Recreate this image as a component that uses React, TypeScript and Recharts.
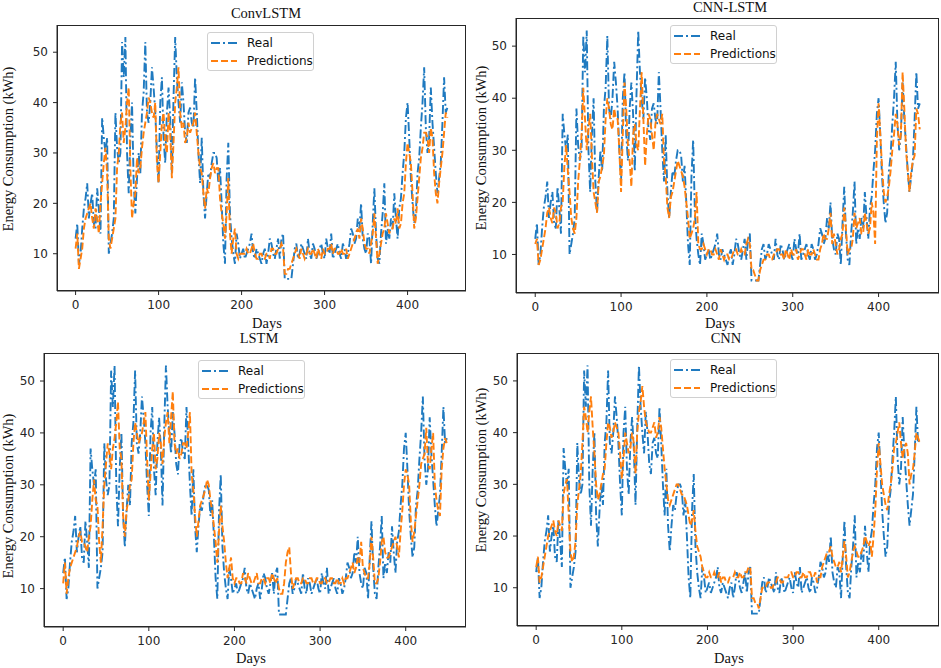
import { LineChart, Line, XAxis, YAxis, Legend } from "recharts";

// readings every 4 days (days 0, 4, ... 448) and the days in between (2, 6, ... 446)
const STEP = 4;

const REAL = [
  13, 8, 15, 21, 17, 22, 15, 19, 37, 30,
  10, 14, 38, 28, 52, 53, 22, 40, 18, 30,
  38, 52, 36, 47, 38, 24, 45, 28, 43, 26,
  53, 40, 44, 34, 38, 36, 45, 30, 33, 17,
  26, 28, 30, 24, 20, 8, 32, 13, 8, 12,
  10, 9, 11, 14, 9, 10, 8, 11, 10, 12,
  9, 13, 13, 5, 5, 5, 11, 9, 12, 10,
  13, 9, 11, 10, 12, 9, 11, 14, 10, 12,
  9, 11, 10, 15, 12, 17, 20, 11, 14, 8,
  23, 9, 14, 24, 15, 17, 22, 13, 21, 30,
  40, 25, 16, 26, 35, 47, 30, 43, 31, 22,
  28, 45, 39,
];
const REAL_MID = [
  16, 10, 19, 24, 20, 16, 23, 14, 33, 33,
  12, 17, 31, 30, 45, 30, 33, 24, 25, 26,
  42, 38, 40, 43, 30, 40, 33, 38, 37, 41,
  45, 36, 40, 32, 39, 35, 38, 24, 22, 22,
  25, 30, 29, 27, 12, 25, 18, 10, 14, 9,
  11, 10, 12, 10, 11, 9, 10, 8, 13, 10,
  11, 9, 14, 5, 5, 8, 12, 10, 11, 9,
  10, 12, 9, 11, 10, 13, 10, 9, 11, 10,
  12, 9, 12, 14, 13, 15, 13, 10, 13, 16,
  14, 8, 18, 12, 13, 15, 17, 19, 26, 37,
  33, 20, 18, 29, 40, 35, 33, 36, 26, 25,
  36, 38,
];

const PRED_CONVLSTM = [
  11, 7, 11, 17, 19, 17, 19, 14, 24, 31,
  13, 13, 17, 30, 38, 35, 43, 17, 22, 26,
  31, 36, 41, 38, 40, 24, 36, 32, 38, 25,
  40, 47, 35, 32, 36, 35, 38, 30, 26, 19,
  22, 27, 26, 27, 18, 13, 25, 10, 15, 9,
  10, 10, 10, 11, 10, 9, 10, 9, 10, 11,
  10, 11, 12, 6, 7, 8, 10, 10, 11, 9,
  11, 10, 10, 11, 9, 10, 11, 12, 11, 10,
  11, 10, 9, 11, 13, 15, 17, 12, 11, 12,
  18, 8, 12, 15, 16, 15, 17, 19, 16, 22,
  32, 28, 15, 21, 29, 34, 33, 35, 26, 20,
  27, 34, 37,
];
const PRED_CONVLSTM_MID = [
  14, 9, 15, 18, 20, 15, 17, 20, 28, 26,
  11, 15, 27, 36, 32, 40, 27, 20, 29, 27,
  34, 38, 40, 37, 28, 30, 38, 30, 34, 32,
  43, 38, 36, 33, 34, 36, 34, 27, 22, 23,
  25, 28, 27, 21, 16, 18, 14, 13, 10, 10,
  10, 11, 10, 12, 9, 10, 9, 10, 9, 11,
  10, 11, 11, 6, 7, 9, 11, 9, 10, 10,
  10, 11, 9, 10, 11, 10, 11, 10, 11, 10,
  10, 11, 10, 12, 14, 13, 15, 11, 10, 14,
  13, 10, 14, 18, 14, 15, 16, 15, 20, 28,
  30, 22, 17, 25, 31, 34, 30, 33, 22, 24,
  30, 38,
];

const PRED_CNN_LSTM = [
  12, 8, 11, 15, 19, 16, 18, 16, 20, 31,
  22, 15, 17, 28, 42, 30, 37, 22, 18, 25,
  29, 40, 35, 38, 36, 22, 43, 31, 23, 35,
  30, 45, 27, 37, 33, 35, 36, 37, 25, 17,
  22, 26, 27, 25, 20, 13, 15, 22, 11, 12,
  10, 11, 10, 10, 11, 9, 10, 9, 11, 10,
  11, 10, 13, 7, 6, 5, 8, 9, 10, 9,
  10, 11, 10, 11, 9, 10, 11, 10, 11, 9,
  10, 11, 9, 11, 14, 13, 18, 14, 10, 13,
  19, 10, 11, 18, 16, 14, 18, 14, 20, 12,
  39, 27, 20, 23, 30, 37, 31, 45, 30, 22,
  28, 38, 34,
];
const PRED_CNN_LSTM_MID = [
  13, 9, 13, 18, 17, 19, 15, 19, 27, 26,
  17, 14, 24, 33, 36, 34, 29, 20, 24, 27,
  36, 38, 34, 36, 30, 33, 38, 28, 33, 31,
  38, 36, 33, 36, 30, 37, 35, 28, 19, 21,
  24, 28, 26, 23, 17, 14, 17, 12, 11, 11,
  11, 10, 11, 9, 10, 10, 9, 10, 11, 10,
  10, 12, 12, 7, 5, 7, 9, 10, 9, 10,
  11, 10, 9, 10, 11, 10, 9, 11, 10, 11,
  10, 10, 9, 12, 13, 15, 12, 12, 11, 14,
  15, 11, 13, 15, 17, 14, 16, 15, 18, 32,
  33, 22, 21, 26, 33, 35, 33, 38, 26, 26,
  29, 37,
];

const PRED_LSTM = [
  11, 9, 14, 16, 18, 21, 19, 17, 22, 31,
  26, 15, 30, 38, 33, 39, 46, 35, 20, 27,
  31, 42, 38, 40, 44, 27, 37, 33, 40, 34,
  42, 38, 48, 36, 35, 38, 37, 44, 29, 20,
  26, 28, 31, 27, 22, 15, 26, 19, 12, 16,
  11, 12, 11, 12, 13, 11, 12, 11, 12, 11,
  12, 13, 11, 10, 9, 15, 18, 10, 12, 11,
  12, 11, 12, 11, 12, 11, 12, 11, 12, 11,
  12, 11, 11, 12, 14, 13, 16, 19, 13, 12,
  20, 11, 12, 19, 17, 16, 18, 20, 16, 25,
  33, 30, 19, 24, 30, 35, 41, 33, 40, 27,
  24, 37, 38,
];
const PRED_LSTM_MID = [
  15, 12, 15, 17, 20, 19, 18, 20, 27, 27,
  19, 22, 34, 36, 37, 42, 37, 24, 25, 30,
  38, 40, 39, 42, 35, 32, 40, 35, 38, 39,
  44, 43, 38, 37, 36, 38, 40, 32, 24, 23,
  27, 29, 30, 25, 19, 21, 22, 15, 14, 12,
  12, 11, 13, 11, 12, 11, 13, 11, 12, 12,
  11, 12, 12, 9, 11, 17, 13, 11, 12, 11,
  12, 11, 12, 11, 12, 11, 12, 11, 12, 11,
  11, 12, 12, 13, 15, 14, 15, 14, 12, 15,
  16, 11, 15, 20, 16, 17, 19, 18, 21, 30,
  32, 23, 21, 27, 34, 36, 34, 37, 30, 25,
  33, 39,
];

const PRED_CNN = [
  14, 11, 14, 18, 21, 23, 20, 22, 28, 31,
  17, 16, 26, 32, 45, 40, 47, 36, 27, 30,
  33, 42, 39, 42, 40, 31, 40, 36, 40, 32,
  44, 49, 42, 40, 41, 39, 43, 37, 30, 26,
  28, 30, 29, 28, 26, 22, 25, 18, 16, 13,
  12, 12, 13, 12, 11, 12, 11, 12, 13, 12,
  12, 13, 14, 8, 7, 6, 10, 10, 11, 10,
  11, 12, 11, 12, 13, 12, 13, 12, 13, 12,
  13, 12, 11, 12, 15, 17, 18, 15, 14, 13,
  19, 12, 15, 18, 16, 17, 20, 18, 16, 25,
  38, 30, 26, 28, 33, 38, 42, 35, 38, 30,
  33, 40, 38,
];
const PRED_CNN_MID = [
  16, 12, 16, 20, 22, 21, 23, 21, 30, 24,
  15, 19, 29, 38, 43, 44, 41, 30, 28, 32,
  38, 41, 40, 41, 36, 35, 38, 37, 38, 40,
  46, 45, 41, 40, 42, 40, 41, 33, 27, 27,
  29, 30, 28, 27, 24, 23, 21, 17, 14, 12,
  13, 12, 12, 13, 12, 11, 12, 12, 12, 13,
  12, 13, 14, 8, 7, 8, 10, 11, 10, 11,
  12, 11, 12, 12, 13, 12, 13, 12, 12, 13,
  12, 13, 12, 14, 16, 17, 16, 14, 15, 16,
  16, 13, 17, 17, 16, 18, 19, 19, 20, 33,
  34, 28, 25, 30, 37, 40, 38, 37, 36, 32,
  36, 39,
];

const X_TICKS = [0, 100, 200, 300, 400];
const Y_TICKS = [10, 20, 30, 40, 50];

const BLUE = "#1f7ac0";
const ORANGE = "#ff7f0e";
const AXIS = "#262626";
const SERIF = "'Liberation Serif', 'Times New Roman', serif";
const SANS = "'DejaVu Sans', sans-serif";

const YW = 50;
const XH = 30;

// plot box (x0,x1,y0,y1) plus label anchors, in page pixels
const PANELS = [
  { title: "ConvLSTM", pred: PRED_CONVLSTM, predMid: PRED_CONVLSTM_MID, box: [57, 466, 25, 291], titleAt: [266, 13], ylabAt: [8, 149], daysAt: [267, 323], legendAt: [207, 32] },
  { title: "CNN-LSTM", pred: PRED_CNN_LSTM, predMid: PRED_CNN_LSTM_MID, box: [516, 939, 18, 293], titleAt: [730, 7], ylabAt: [481, 148], daysAt: [720, 323], legendAt: [670, 25] },
  { title: "LSTM", pred: PRED_LSTM, predMid: PRED_LSTM_MID, box: [44, 466, 353, 627], titleAt: [259, 338], ylabAt: [8, 496], daysAt: [251, 658], legendAt: [198, 360] },
  { title: "CNN", pred: PRED_CNN, predMid: PRED_CNN_MID, box: [517, 939, 353, 626], titleAt: [726, 338], ylabAt: [481, 470], daysAt: [729, 658], legendAt: [670, 359] },
];

const tickStyle = { fontFamily: SANS, fontSize: 12, fill: AXIS };

function buildRows(pred: number[], predMid: number[]) {
  const rows: { day: number; real: number; pred: number }[] = [];
  REAL.forEach((r, i) => {
    rows.push({ day: i * STEP, real: r, pred: pred[i] });
    if (i < REAL_MID.length) rows.push({ day: i * STEP + STEP / 2, real: REAL_MID[i], pred: predMid[i] });
  });
  return rows;
}

function LegendBox() {
  const rows = [
    { name: "Real", color: BLUE, dash: "9 3 2 3" },
    { name: "Predictions", color: ORANGE, dash: "7 3" },
  ];
  return (
    <div
      style={{
        width: 107,
        height: 39,
        boxSizing: "border-box",
        border: "1px solid #d0d0d0",
        borderRadius: 3,
        background: "rgba(255,255,255,0.85)",
        padding: "1px 0 0 3px",
        fontFamily: SANS,
        fontSize: 12,
        color: "#111",
      }}
    >
      {rows.map((r) => (
        <div key={r.name} style={{ display: "flex", alignItems: "center", height: 18 }}>
          <svg width={26} height={10} style={{ marginRight: 10 }}>
            <line x1={0} y1={5} x2={26} y2={5} stroke={r.color} strokeWidth={2} strokeDasharray={r.dash} />
          </svg>
          <span>{r.name}</span>
        </div>
      ))}
    </div>
  );
}

function Label({ at, text, rotate }: { at: number[]; text: string; rotate?: boolean }) {
  return (
    <div
      style={{
        position: "absolute",
        left: at[0],
        top: at[1],
        transform: `translate(-50%, -50%)${rotate ? " rotate(-90deg)" : ""}`,
        whiteSpace: "nowrap",
        fontFamily: SERIF,
        fontSize: 14.5,
        color: "#111",
        lineHeight: 1,
      }}
    >
      {text}
    </div>
  );
}

function Panel({ p }: { p: (typeof PANELS)[number] }) {
  const [x0, x1, y0, y1] = p.box;
  const left = x0 - YW;
  const top = y0;
  const data = buildRows(p.pred, p.predMid);
  return (
    <>
      <div style={{ position: "absolute", left, top }}>
        <LineChart
          width={YW + (x1 - x0)}
          height={y1 - y0 + XH}
          data={data}
          margin={{ top: 0, right: 0, bottom: 0, left: 0 }}
        >
          <XAxis
            dataKey="day"
            type="number"
            domain={[-22.4, 470.4]}
            ticks={X_TICKS}
            height={XH}
            tickSize={4}
            tickMargin={5}
            tick={tickStyle}
            stroke={AXIS}
            allowDataOverflow
          />
          <YAxis
            type="number"
            domain={[2.6, 55.4]}
            ticks={Y_TICKS}
            width={YW}
            tickSize={4}
            tickMargin={5}
            tick={tickStyle}
            stroke={AXIS}
            allowDataOverflow
          />
          <Legend
            verticalAlign="middle"
            align="center"
            content={() => <LegendBox />}
            wrapperStyle={{ left: p.legendAt[0] - left, top: p.legendAt[1] - top, width: 107, height: 39 }}
          />
          <Line
            dataKey="real"
            name="Real"
            type="linear"
            stroke={BLUE}
            strokeWidth={1.9}
            strokeDasharray="9 3 2 3"
            dot={false}
            isAnimationActive={false}
          />
          <Line
            dataKey="pred"
            name="Predictions"
            type="linear"
            stroke={ORANGE}
            strokeWidth={1.9}
            strokeDasharray="7 3"
            dot={false}
            isAnimationActive={false}
          />
        </LineChart>
      </div>
      {/* axes frame (matplotlib spines) */}
      <div
        style={{
          position: "absolute",
          left: x0,
          top: y0 - 0.5,
          width: x1 - x0,
          height: y1 - y0,
          boxSizing: "border-box",
          border: `1px solid ${AXIS}`,
          pointerEvents: "none",
        }}
      />
      <Label at={p.titleAt} text={p.title} />
      <Label at={p.ylabAt} text="Energy Consumption (kWh)" rotate />
      <Label at={p.daysAt} text="Days" />
    </>
  );
}

export default function App() {
  return (
    <div style={{ position: "absolute", left: 0, top: 0, width: 941, height: 668, background: "#fff", overflow: "hidden" }}>
      {PANELS.map((p) => (
        <Panel key={p.title} p={p} />
      ))}
    </div>
  );
}
